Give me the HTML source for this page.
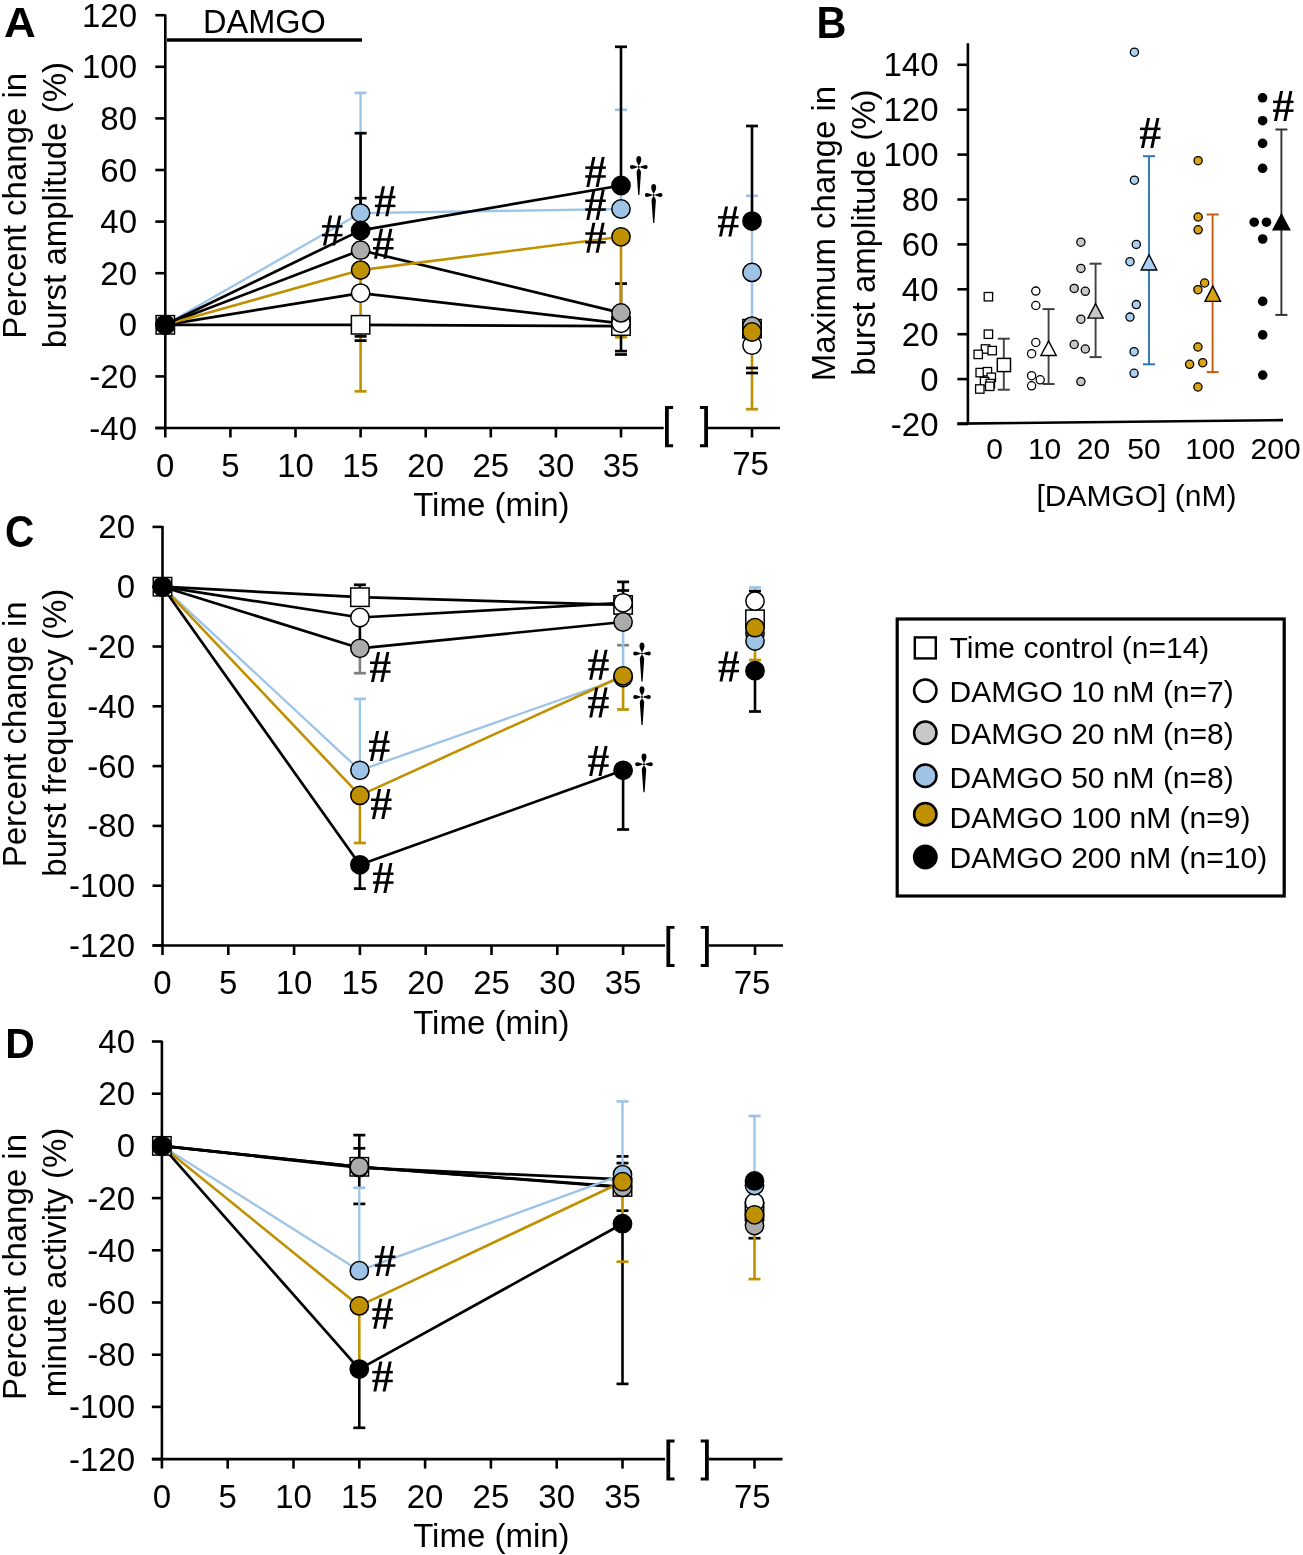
<!DOCTYPE html><html><head><meta charset="utf-8"><style>html,body{margin:0;padding:0;background:#fff;width:1303px;height:1555px;overflow:hidden}svg{display:block;will-change:transform}text{font-family:"Liberation Sans",sans-serif;fill:#000}</style></head><body><svg width="1303" height="1555" viewBox="0 0 1303 1555" font-family="Liberation Sans, sans-serif">
<rect width="1303" height="1555" fill="#fff"/>
<text transform="translate(4.1,37.3) scale(1,0.97)" font-size="44" font-weight="bold">A</text>
<line x1="165.3" y1="14.4" x2="165.3" y2="437.5" stroke="#000" stroke-width="2.6" stroke-linecap="butt"/>
<line x1="155.3" y1="428.0" x2="165.3" y2="428.0" stroke="#000" stroke-width="2.6" stroke-linecap="butt"/>
<text x="137.0" y="439.5" font-size="33" text-anchor="end" font-weight="normal" >-40</text>
<line x1="155.3" y1="376.4" x2="165.3" y2="376.4" stroke="#000" stroke-width="2.6" stroke-linecap="butt"/>
<text x="137.0" y="387.9" font-size="33" text-anchor="end" font-weight="normal" >-20</text>
<line x1="155.3" y1="324.8" x2="165.3" y2="324.8" stroke="#000" stroke-width="2.6" stroke-linecap="butt"/>
<text x="137.0" y="336.3" font-size="33" text-anchor="end" font-weight="normal" >0</text>
<line x1="155.3" y1="273.2" x2="165.3" y2="273.2" stroke="#000" stroke-width="2.6" stroke-linecap="butt"/>
<text x="137.0" y="284.7" font-size="33" text-anchor="end" font-weight="normal" >20</text>
<line x1="155.3" y1="221.6" x2="165.3" y2="221.6" stroke="#000" stroke-width="2.6" stroke-linecap="butt"/>
<text x="137.0" y="233.1" font-size="33" text-anchor="end" font-weight="normal" >40</text>
<line x1="155.3" y1="170.0" x2="165.3" y2="170.0" stroke="#000" stroke-width="2.6" stroke-linecap="butt"/>
<text x="137.0" y="181.5" font-size="33" text-anchor="end" font-weight="normal" >60</text>
<line x1="155.3" y1="118.4" x2="165.3" y2="118.4" stroke="#000" stroke-width="2.6" stroke-linecap="butt"/>
<text x="137.0" y="129.9" font-size="33" text-anchor="end" font-weight="normal" >80</text>
<line x1="155.3" y1="66.8" x2="165.3" y2="66.8" stroke="#000" stroke-width="2.6" stroke-linecap="butt"/>
<text x="137.0" y="78.3" font-size="33" text-anchor="end" font-weight="normal" >100</text>
<line x1="155.3" y1="15.2" x2="165.3" y2="15.2" stroke="#000" stroke-width="2.6" stroke-linecap="butt"/>
<text x="137.0" y="26.7" font-size="33" text-anchor="end" font-weight="normal" >120</text>
<line x1="155.3" y1="428.0" x2="663.7" y2="428.0" stroke="#000" stroke-width="2.6" stroke-linecap="butt"/>
<line x1="708.0" y1="428.0" x2="780.0" y2="428.0" stroke="#000" stroke-width="2.6" stroke-linecap="butt"/>
<line x1="230.4" y1="428.0" x2="230.4" y2="437.5" stroke="#000" stroke-width="2.6" stroke-linecap="butt"/>
<line x1="295.5" y1="428.0" x2="295.5" y2="437.5" stroke="#000" stroke-width="2.6" stroke-linecap="butt"/>
<line x1="360.6" y1="428.0" x2="360.6" y2="437.5" stroke="#000" stroke-width="2.6" stroke-linecap="butt"/>
<line x1="425.7" y1="428.0" x2="425.7" y2="437.5" stroke="#000" stroke-width="2.6" stroke-linecap="butt"/>
<line x1="490.8" y1="428.0" x2="490.8" y2="437.5" stroke="#000" stroke-width="2.6" stroke-linecap="butt"/>
<line x1="555.9" y1="428.0" x2="555.9" y2="437.5" stroke="#000" stroke-width="2.6" stroke-linecap="butt"/>
<line x1="621.0" y1="428.0" x2="621.0" y2="437.5" stroke="#000" stroke-width="2.6" stroke-linecap="butt"/>
<line x1="752.0" y1="428.0" x2="752.0" y2="437.5" stroke="#000" stroke-width="2.6" stroke-linecap="butt"/>
<path d="M665.0,406.0 H673.1 V408.9 H668.8 V444.3 H673.1 V447.2 H665.0 Z"/>
<path d="M708.0,406.0 H699.9 V408.9 H704.2 V444.3 H699.9 V447.2 H708.0 Z"/>
<text x="165.3" y="476.5" font-size="33" text-anchor="middle" font-weight="normal" >0</text>
<text x="230.4" y="476.5" font-size="33" text-anchor="middle" font-weight="normal" >5</text>
<text x="295.5" y="476.5" font-size="33" text-anchor="middle" font-weight="normal" >10</text>
<text x="360.6" y="476.5" font-size="33" text-anchor="middle" font-weight="normal" >15</text>
<text x="425.7" y="476.5" font-size="33" text-anchor="middle" font-weight="normal" >20</text>
<text x="490.8" y="476.5" font-size="33" text-anchor="middle" font-weight="normal" >25</text>
<text x="555.9" y="476.5" font-size="33" text-anchor="middle" font-weight="normal" >30</text>
<text x="621.0" y="476.5" font-size="33" text-anchor="middle" font-weight="normal" >35</text>
<text x="750.5" y="474.5" font-size="33" text-anchor="middle" font-weight="normal" >75</text>
<text x="491.4" y="516.0" font-size="33" text-anchor="middle" font-weight="normal" >Time (min)</text>
<text transform="translate(26.1,205.8) rotate(-90)" font-size="33" text-anchor="middle">Percent change in</text>
<text transform="translate(65.6,205.1) rotate(-90)" font-size="33" text-anchor="middle">burst amplitude (%)</text>
<line x1="167.0" y1="40.1" x2="362.0" y2="40.1" stroke="#000" stroke-width="3.5" stroke-linecap="butt"/>
<text x="264.5" y="33.0" font-size="32.5" text-anchor="middle" font-weight="normal" >DAMGO</text>
<polyline fill="none" stroke="#000" stroke-width="2.7" stroke-linejoin="round" points="165.3,324.8 360.6,324.8 621.0,326.1"/>
<polyline fill="none" stroke="#000" stroke-width="2.7" stroke-linejoin="round" points="165.3,324.8 360.6,293.1 621.0,323.3"/>
<polyline fill="none" stroke="#000" stroke-width="2.7" stroke-linejoin="round" points="165.3,324.8 360.6,250.2 621.0,312.9"/>
<polyline fill="none" stroke="#9DC3E6" stroke-width="2.3" stroke-linejoin="round" points="165.3,324.8 360.6,213.1 621.0,209.0"/>
<polyline fill="none" stroke="#BF9000" stroke-width="2.6" stroke-linejoin="round" points="165.3,324.8 360.6,270.1 621.0,236.8"/>
<polyline fill="none" stroke="#000" stroke-width="2.7" stroke-linejoin="round" points="165.3,324.8 360.6,230.4 621.0,185.5"/>
<line x1="360.6" y1="213.1" x2="360.6" y2="92.9" stroke="#9DC3E6" stroke-width="2.3" stroke-linecap="butt"/>
<line x1="354.6" y1="92.9" x2="366.6" y2="92.9" stroke="#9DC3E6" stroke-width="2.7" stroke-linecap="butt"/>
<line x1="360.6" y1="230.4" x2="360.6" y2="133.2" stroke="#000" stroke-width="2.6" stroke-linecap="butt"/>
<line x1="354.6" y1="133.2" x2="366.6" y2="133.2" stroke="#000" stroke-width="2.7" stroke-linecap="butt"/>
<line x1="360.6" y1="250.2" x2="360.6" y2="198.2" stroke="#000" stroke-width="2.6" stroke-linecap="butt"/>
<line x1="354.6" y1="198.2" x2="366.6" y2="198.2" stroke="#000" stroke-width="2.7" stroke-linecap="butt"/>
<line x1="360.6" y1="270.1" x2="360.6" y2="391.3" stroke="#BF9000" stroke-width="2.6" stroke-linecap="butt"/>
<line x1="354.6" y1="391.3" x2="366.6" y2="391.3" stroke="#BF9000" stroke-width="2.7" stroke-linecap="butt"/>
<line x1="354.6" y1="336.4" x2="366.6" y2="336.4" stroke="#000" stroke-width="2.7" stroke-linecap="butt"/>
<line x1="354.6" y1="340.6" x2="366.6" y2="340.6" stroke="#000" stroke-width="2.7" stroke-linecap="butt"/>
<line x1="621.0" y1="209.0" x2="621.0" y2="109.8" stroke="#9DC3E6" stroke-width="2.3" stroke-linecap="butt"/>
<line x1="615.0" y1="109.8" x2="627.0" y2="109.8" stroke="#9DC3E6" stroke-width="2.7" stroke-linecap="butt"/>
<line x1="621.0" y1="185.5" x2="621.0" y2="46.8" stroke="#000" stroke-width="2.6" stroke-linecap="butt"/>
<line x1="615.0" y1="46.8" x2="627.0" y2="46.8" stroke="#000" stroke-width="2.7" stroke-linecap="butt"/>
<line x1="621.0" y1="312.9" x2="621.0" y2="283.6" stroke="#000" stroke-width="2.6" stroke-linecap="butt"/>
<line x1="615.0" y1="283.6" x2="627.0" y2="283.6" stroke="#000" stroke-width="2.7" stroke-linecap="butt"/>
<line x1="621.0" y1="236.8" x2="621.0" y2="337.2" stroke="#BF9000" stroke-width="2.6" stroke-linecap="butt"/>
<line x1="615.0" y1="337.2" x2="627.0" y2="337.2" stroke="#BF9000" stroke-width="2.7" stroke-linecap="butt"/>
<line x1="621.0" y1="326.1" x2="621.0" y2="351.1" stroke="#000" stroke-width="2.6" stroke-linecap="butt"/>
<line x1="615.0" y1="351.1" x2="627.0" y2="351.1" stroke="#000" stroke-width="2.7" stroke-linecap="butt"/>
<line x1="615.0" y1="354.5" x2="627.0" y2="354.5" stroke="#000" stroke-width="2.7" stroke-linecap="butt"/>
<line x1="752.0" y1="272.4" x2="752.0" y2="195.8" stroke="#9DC3E6" stroke-width="2.3" stroke-linecap="butt"/>
<line x1="746.0" y1="195.8" x2="758.0" y2="195.8" stroke="#9DC3E6" stroke-width="2.7" stroke-linecap="butt"/>
<line x1="752.0" y1="272.4" x2="752.0" y2="330.0" stroke="#9DC3E6" stroke-width="2.6" stroke-linecap="butt"/>
<line x1="752.0" y1="221.1" x2="752.0" y2="126.0" stroke="#000" stroke-width="2.6" stroke-linecap="butt"/>
<line x1="746.0" y1="126.0" x2="758.0" y2="126.0" stroke="#000" stroke-width="2.7" stroke-linecap="butt"/>
<line x1="752.0" y1="332.0" x2="752.0" y2="409.2" stroke="#BF9000" stroke-width="2.6" stroke-linecap="butt"/>
<line x1="746.0" y1="409.2" x2="758.0" y2="409.2" stroke="#BF9000" stroke-width="2.7" stroke-linecap="butt"/>
<line x1="746.0" y1="368.0" x2="758.0" y2="368.0" stroke="#000" stroke-width="2.7" stroke-linecap="butt"/>
<line x1="746.0" y1="373.0" x2="758.0" y2="373.0" stroke="#000" stroke-width="2.7" stroke-linecap="butt"/>
<rect x="156.1" y="315.6" width="18.4" height="18.4" fill="#fff" stroke="#000" stroke-width="1.5"/>
<rect x="351.4" y="315.6" width="18.4" height="18.4" fill="#fff" stroke="#000" stroke-width="1.5"/>
<rect x="611.8" y="316.9" width="18.4" height="18.4" fill="#fff" stroke="#000" stroke-width="1.5"/>
<rect x="742.8" y="319.5" width="18.4" height="18.4" fill="#fff" stroke="#000" stroke-width="1.5"/>
<circle cx="165.3" cy="324.8" r="9.15" fill="#fff" stroke="#000" stroke-width="1.5"/>
<circle cx="360.6" cy="293.1" r="9.15" fill="#fff" stroke="#000" stroke-width="1.5"/>
<circle cx="621.0" cy="323.3" r="9.15" fill="#fff" stroke="#000" stroke-width="1.5"/>
<circle cx="752.0" cy="345.2" r="9.15" fill="#fff" stroke="#000" stroke-width="1.5"/>
<circle cx="165.3" cy="324.8" r="9.15" fill="#ABABAB" stroke="#000" stroke-width="1.5"/>
<circle cx="360.6" cy="250.2" r="9.15" fill="#ABABAB" stroke="#000" stroke-width="1.5"/>
<circle cx="621.0" cy="312.9" r="9.15" fill="#ABABAB" stroke="#000" stroke-width="1.5"/>
<circle cx="752.0" cy="326.1" r="9.15" fill="#ABABAB" stroke="#000" stroke-width="1.5"/>
<circle cx="165.3" cy="324.8" r="9.15" fill="#9DC3E6" stroke="#000" stroke-width="1.5"/>
<circle cx="360.6" cy="213.1" r="9.15" fill="#9DC3E6" stroke="#000" stroke-width="1.5"/>
<circle cx="621.0" cy="209.0" r="9.15" fill="#9DC3E6" stroke="#000" stroke-width="1.5"/>
<circle cx="752.0" cy="272.4" r="9.15" fill="#9DC3E6" stroke="#000" stroke-width="1.5"/>
<circle cx="165.3" cy="324.8" r="9.15" fill="#BF9000" stroke="#000" stroke-width="1.5"/>
<circle cx="360.6" cy="270.1" r="9.15" fill="#BF9000" stroke="#000" stroke-width="1.5"/>
<circle cx="621.0" cy="236.8" r="9.15" fill="#BF9000" stroke="#000" stroke-width="1.5"/>
<circle cx="752.0" cy="332.0" r="9.15" fill="#BF9000" stroke="#000" stroke-width="1.5"/>
<circle cx="165.3" cy="324.8" r="9.15" fill="#000" stroke="#000" stroke-width="1.5"/>
<circle cx="360.6" cy="230.4" r="9.15" fill="#000" stroke="#000" stroke-width="1.5"/>
<circle cx="621.0" cy="185.5" r="9.15" fill="#000" stroke="#000" stroke-width="1.5"/>
<circle cx="752.0" cy="221.1" r="9.15" fill="#000" stroke="#000" stroke-width="1.5"/>
<g transform="translate(322.0,215.6)"><polygon points="7.1,0 10.1,0 4.0,30 1.0,30"/><polygon points="16.4,0 19.4,0 13.3,30 10.3,30"/><rect x="0" y="9.5" width="20.5" height="2.5"/><rect x="0" y="18.3" width="20.5" height="2.5"/></g>
<g transform="translate(374.9,186.3)"><polygon points="7.1,0 10.1,0 4.0,30 1.0,30"/><polygon points="16.4,0 19.4,0 13.3,30 10.3,30"/><rect x="0" y="9.5" width="20.5" height="2.5"/><rect x="0" y="18.3" width="20.5" height="2.5"/></g>
<g transform="translate(373.0,228.7)"><polygon points="7.1,0 10.1,0 4.0,30 1.0,30"/><polygon points="16.4,0 19.4,0 13.3,30 10.3,30"/><rect x="0" y="9.5" width="20.5" height="2.5"/><rect x="0" y="18.3" width="20.5" height="2.5"/></g>
<g transform="translate(585.3,156.9)"><polygon points="7.1,0 10.1,0 4.0,30 1.0,30"/><polygon points="16.4,0 19.4,0 13.3,30 10.3,30"/><rect x="0" y="9.5" width="20.5" height="2.5"/><rect x="0" y="18.3" width="20.5" height="2.5"/></g>
<g transform="translate(585.3,190.0)"><polygon points="7.1,0 10.1,0 4.0,30 1.0,30"/><polygon points="16.4,0 19.4,0 13.3,30 10.3,30"/><rect x="0" y="9.5" width="20.5" height="2.5"/><rect x="0" y="18.3" width="20.5" height="2.5"/></g>
<g transform="translate(585.3,222.8)"><polygon points="7.1,0 10.1,0 4.0,30 1.0,30"/><polygon points="16.4,0 19.4,0 13.3,30 10.3,30"/><rect x="0" y="9.5" width="20.5" height="2.5"/><rect x="0" y="18.3" width="20.5" height="2.5"/></g>
<g transform="translate(718.0,206.6)"><polygon points="7.1,0 10.1,0 4.0,30 1.0,30"/><polygon points="16.4,0 19.4,0 13.3,30 10.3,30"/><rect x="0" y="9.5" width="20.5" height="2.5"/><rect x="0" y="18.3" width="20.5" height="2.5"/></g>
<g transform="translate(638.8,166.9)"><path d="M0,-0.8 C-0.8,-3 -2.5,-5 -2.5,-7.5 C-2.5,-9.6 -1.3,-10.8 0,-10.8 C1.3,-10.8 2.5,-9.6 2.5,-7.5 C2.5,-5 0.8,-3 0,-0.8 Z"/><path d="M-0.8,0 C-3,-0.8 -5,-2 -7,-2 C-8,-2 -8.8,-1.1 -8.8,0 C-8.8,1.1 -8,2 -7,2 C-5,2 -3,0.8 -0.8,0 Z"/><path d="M0.8,0 C3,-0.8 5,-2 7,-2 C8,-2 8.8,-1.1 8.8,0 C8.8,1.1 8,2 7,2 C5,2 3,0.8 0.8,0 Z"/><path d="M0,0.8 C-0.9,2.3 -2.2,3.8 -2.2,5.4 L-0.6,28 L0.6,28 L2.2,5.4 C2.2,3.8 0.9,2.3 0,0.8 Z"/><circle r="1"/></g>
<g transform="translate(653.7,194.9)"><path d="M0,-0.8 C-0.8,-3 -2.5,-5 -2.5,-7.5 C-2.5,-9.6 -1.3,-10.8 0,-10.8 C1.3,-10.8 2.5,-9.6 2.5,-7.5 C2.5,-5 0.8,-3 0,-0.8 Z"/><path d="M-0.8,0 C-3,-0.8 -5,-2 -7,-2 C-8,-2 -8.8,-1.1 -8.8,0 C-8.8,1.1 -8,2 -7,2 C-5,2 -3,0.8 -0.8,0 Z"/><path d="M0.8,0 C3,-0.8 5,-2 7,-2 C8,-2 8.8,-1.1 8.8,0 C8.8,1.1 8,2 7,2 C5,2 3,0.8 0.8,0 Z"/><path d="M0,0.8 C-0.9,2.3 -2.2,3.8 -2.2,5.4 L-0.6,28 L0.6,28 L2.2,5.4 C2.2,3.8 0.9,2.3 0,0.8 Z"/><circle r="1"/></g>
<text transform="translate(5.0,546.8) scale(0.92,1)" font-size="44" font-weight="bold">C</text>
<line x1="162.5" y1="526.1" x2="162.5" y2="955.0" stroke="#000" stroke-width="2.6" stroke-linecap="butt"/>
<line x1="152.5" y1="945.5" x2="162.5" y2="945.5" stroke="#000" stroke-width="2.6" stroke-linecap="butt"/>
<text x="135.0" y="957.0" font-size="33" text-anchor="end" font-weight="normal" >-120</text>
<line x1="152.5" y1="885.7" x2="162.5" y2="885.7" stroke="#000" stroke-width="2.6" stroke-linecap="butt"/>
<text x="135.0" y="897.2" font-size="33" text-anchor="end" font-weight="normal" >-100</text>
<line x1="152.5" y1="825.9" x2="162.5" y2="825.9" stroke="#000" stroke-width="2.6" stroke-linecap="butt"/>
<text x="135.0" y="837.4" font-size="33" text-anchor="end" font-weight="normal" >-80</text>
<line x1="152.5" y1="766.1" x2="162.5" y2="766.1" stroke="#000" stroke-width="2.6" stroke-linecap="butt"/>
<text x="135.0" y="777.6" font-size="33" text-anchor="end" font-weight="normal" >-60</text>
<line x1="152.5" y1="706.3" x2="162.5" y2="706.3" stroke="#000" stroke-width="2.6" stroke-linecap="butt"/>
<text x="135.0" y="717.8" font-size="33" text-anchor="end" font-weight="normal" >-40</text>
<line x1="152.5" y1="646.5" x2="162.5" y2="646.5" stroke="#000" stroke-width="2.6" stroke-linecap="butt"/>
<text x="135.0" y="658.0" font-size="33" text-anchor="end" font-weight="normal" >-20</text>
<line x1="152.5" y1="586.7" x2="162.5" y2="586.7" stroke="#000" stroke-width="2.6" stroke-linecap="butt"/>
<text x="135.0" y="598.2" font-size="33" text-anchor="end" font-weight="normal" >0</text>
<line x1="152.5" y1="526.9" x2="162.5" y2="526.9" stroke="#000" stroke-width="2.6" stroke-linecap="butt"/>
<text x="135.0" y="538.4" font-size="33" text-anchor="end" font-weight="normal" >20</text>
<line x1="152.5" y1="945.5" x2="665.1" y2="945.5" stroke="#000" stroke-width="2.6" stroke-linecap="butt"/>
<line x1="708.8" y1="945.5" x2="783.0" y2="945.5" stroke="#000" stroke-width="2.6" stroke-linecap="butt"/>
<line x1="228.3" y1="945.5" x2="228.3" y2="955.0" stroke="#000" stroke-width="2.6" stroke-linecap="butt"/>
<line x1="294.1" y1="945.5" x2="294.1" y2="955.0" stroke="#000" stroke-width="2.6" stroke-linecap="butt"/>
<line x1="359.9" y1="945.5" x2="359.9" y2="955.0" stroke="#000" stroke-width="2.6" stroke-linecap="butt"/>
<line x1="425.7" y1="945.5" x2="425.7" y2="955.0" stroke="#000" stroke-width="2.6" stroke-linecap="butt"/>
<line x1="491.5" y1="945.5" x2="491.5" y2="955.0" stroke="#000" stroke-width="2.6" stroke-linecap="butt"/>
<line x1="557.3" y1="945.5" x2="557.3" y2="955.0" stroke="#000" stroke-width="2.6" stroke-linecap="butt"/>
<line x1="623.1" y1="945.5" x2="623.1" y2="955.0" stroke="#000" stroke-width="2.6" stroke-linecap="butt"/>
<line x1="755.0" y1="945.5" x2="755.0" y2="955.0" stroke="#000" stroke-width="2.6" stroke-linecap="butt"/>
<path d="M666.4,925.9 H674.5 V928.8 H670.2 V964.0 H674.5 V966.9 H666.4 Z"/>
<path d="M708.8,925.9 H700.7 V928.8 H705.0 V964.0 H700.7 V966.9 H708.8 Z"/>
<text x="162.5" y="994.0" font-size="33" text-anchor="middle" font-weight="normal" >0</text>
<text x="228.3" y="994.0" font-size="33" text-anchor="middle" font-weight="normal" >5</text>
<text x="294.1" y="994.0" font-size="33" text-anchor="middle" font-weight="normal" >10</text>
<text x="359.9" y="994.0" font-size="33" text-anchor="middle" font-weight="normal" >15</text>
<text x="425.7" y="994.0" font-size="33" text-anchor="middle" font-weight="normal" >20</text>
<text x="491.5" y="994.0" font-size="33" text-anchor="middle" font-weight="normal" >25</text>
<text x="557.3" y="994.0" font-size="33" text-anchor="middle" font-weight="normal" >30</text>
<text x="623.1" y="994.0" font-size="33" text-anchor="middle" font-weight="normal" >35</text>
<text x="752.0" y="994.0" font-size="33" text-anchor="middle" font-weight="normal" >75</text>
<text x="491.4" y="1033.5" font-size="33" text-anchor="middle" font-weight="normal" >Time (min)</text>
<text transform="translate(26.1,734.3) rotate(-90)" font-size="33" text-anchor="middle">Percent change in</text>
<text transform="translate(65.6,732.7) rotate(-90)" font-size="33" text-anchor="middle">burst frequency (%)</text>
<polyline fill="none" stroke="#000" stroke-width="2.7" stroke-linejoin="round" points="162.5,586.7 359.9,597.2 623.1,604.9"/>
<polyline fill="none" stroke="#000" stroke-width="2.7" stroke-linejoin="round" points="162.5,586.7 359.9,617.5 623.1,602.8"/>
<polyline fill="none" stroke="#000" stroke-width="2.7" stroke-linejoin="round" points="162.5,586.7 359.9,648.3 623.1,622.0"/>
<polyline fill="none" stroke="#9DC3E6" stroke-width="2.3" stroke-linejoin="round" points="162.5,586.7 359.9,770.3 623.1,677.6"/>
<polyline fill="none" stroke="#BF9000" stroke-width="2.6" stroke-linejoin="round" points="162.5,586.7 359.9,795.4 623.1,675.8"/>
<polyline fill="none" stroke="#000" stroke-width="2.7" stroke-linejoin="round" points="162.5,586.7 359.9,864.8 623.1,770.3"/>
<line x1="359.9" y1="597.2" x2="359.9" y2="584.8" stroke="#000" stroke-width="2.6" stroke-linecap="butt"/>
<line x1="353.9" y1="584.8" x2="365.9" y2="584.8" stroke="#000" stroke-width="2.7" stroke-linecap="butt"/>
<line x1="359.9" y1="617.5" x2="359.9" y2="648.3" stroke="#000" stroke-width="2.6" stroke-linecap="butt"/>
<line x1="353.9" y1="648.3" x2="365.9" y2="648.3" stroke="#000" stroke-width="2.7" stroke-linecap="butt"/>
<line x1="359.9" y1="648.3" x2="359.9" y2="673.2" stroke="#808080" stroke-width="2.6" stroke-linecap="butt"/>
<line x1="353.9" y1="673.2" x2="365.9" y2="673.2" stroke="#808080" stroke-width="2.7" stroke-linecap="butt"/>
<line x1="359.9" y1="770.3" x2="359.9" y2="698.9" stroke="#9DC3E6" stroke-width="2.3" stroke-linecap="butt"/>
<line x1="353.9" y1="698.9" x2="365.9" y2="698.9" stroke="#9DC3E6" stroke-width="2.7" stroke-linecap="butt"/>
<line x1="359.9" y1="795.4" x2="359.9" y2="843.0" stroke="#BF9000" stroke-width="2.6" stroke-linecap="butt"/>
<line x1="353.9" y1="843.0" x2="365.9" y2="843.0" stroke="#BF9000" stroke-width="2.7" stroke-linecap="butt"/>
<line x1="359.9" y1="864.8" x2="359.9" y2="888.6" stroke="#000" stroke-width="2.6" stroke-linecap="butt"/>
<line x1="353.9" y1="888.6" x2="365.9" y2="888.6" stroke="#000" stroke-width="2.7" stroke-linecap="butt"/>
<line x1="617.1" y1="645.2" x2="629.1" y2="645.2" stroke="#808080" stroke-width="2.7" stroke-linecap="butt"/>
<line x1="623.1" y1="677.6" x2="623.1" y2="622.0" stroke="#9DC3E6" stroke-width="2.6" stroke-linecap="butt"/>
<line x1="623.1" y1="602.8" x2="623.1" y2="581.9" stroke="#000" stroke-width="2.6" stroke-linecap="butt"/>
<line x1="617.1" y1="581.9" x2="629.1" y2="581.9" stroke="#000" stroke-width="2.7" stroke-linecap="butt"/>
<line x1="617.1" y1="590.5" x2="629.1" y2="590.5" stroke="#000" stroke-width="2.7" stroke-linecap="butt"/>
<line x1="623.1" y1="674.3" x2="623.1" y2="709.5" stroke="#BF9000" stroke-width="2.6" stroke-linecap="butt"/>
<line x1="617.1" y1="709.5" x2="629.1" y2="709.5" stroke="#BF9000" stroke-width="2.7" stroke-linecap="butt"/>
<line x1="623.1" y1="770.3" x2="623.1" y2="829.5" stroke="#000" stroke-width="2.6" stroke-linecap="butt"/>
<line x1="617.1" y1="829.5" x2="629.1" y2="829.5" stroke="#000" stroke-width="2.7" stroke-linecap="butt"/>
<line x1="755.0" y1="601.1" x2="755.0" y2="587.5" stroke="#9DC3E6" stroke-width="2.3" stroke-linecap="butt"/>
<line x1="749.0" y1="587.5" x2="761.0" y2="587.5" stroke="#9DC3E6" stroke-width="2.7" stroke-linecap="butt"/>
<line x1="755.0" y1="601.1" x2="755.0" y2="591.1" stroke="#000" stroke-width="2.6" stroke-linecap="butt"/>
<line x1="749.0" y1="591.1" x2="761.0" y2="591.1" stroke="#000" stroke-width="2.7" stroke-linecap="butt"/>
<line x1="755.0" y1="627.7" x2="755.0" y2="660.0" stroke="#BF9000" stroke-width="2.6" stroke-linecap="butt"/>
<line x1="749.0" y1="660.0" x2="761.0" y2="660.0" stroke="#BF9000" stroke-width="2.7" stroke-linecap="butt"/>
<line x1="755.0" y1="670.7" x2="755.0" y2="711.5" stroke="#000" stroke-width="2.6" stroke-linecap="butt"/>
<line x1="749.0" y1="711.5" x2="761.0" y2="711.5" stroke="#000" stroke-width="2.7" stroke-linecap="butt"/>
<rect x="153.3" y="577.5" width="18.4" height="18.4" fill="#fff" stroke="#000" stroke-width="1.5"/>
<rect x="350.7" y="588.0" width="18.4" height="18.4" fill="#fff" stroke="#000" stroke-width="1.5"/>
<rect x="613.9" y="595.7" width="18.4" height="18.4" fill="#fff" stroke="#000" stroke-width="1.5"/>
<rect x="745.8" y="610.1" width="18.4" height="18.4" fill="#fff" stroke="#000" stroke-width="1.5"/>
<circle cx="162.5" cy="586.7" r="9.15" fill="#fff" stroke="#000" stroke-width="1.5"/>
<circle cx="359.9" cy="617.5" r="9.15" fill="#fff" stroke="#000" stroke-width="1.5"/>
<circle cx="623.1" cy="602.8" r="9.15" fill="#fff" stroke="#000" stroke-width="1.5"/>
<circle cx="755.0" cy="601.1" r="9.15" fill="#fff" stroke="#000" stroke-width="1.5"/>
<circle cx="162.5" cy="586.7" r="9.15" fill="#ABABAB" stroke="#000" stroke-width="1.5"/>
<circle cx="359.9" cy="648.3" r="9.15" fill="#ABABAB" stroke="#000" stroke-width="1.5"/>
<circle cx="623.1" cy="622.0" r="9.15" fill="#ABABAB" stroke="#000" stroke-width="1.5"/>
<circle cx="755.0" cy="633.6" r="9.15" fill="#ABABAB" stroke="#000" stroke-width="1.5"/>
<circle cx="162.5" cy="586.7" r="9.15" fill="#9DC3E6" stroke="#000" stroke-width="1.5"/>
<circle cx="359.9" cy="770.3" r="9.15" fill="#9DC3E6" stroke="#000" stroke-width="1.5"/>
<circle cx="623.1" cy="677.6" r="9.15" fill="#9DC3E6" stroke="#000" stroke-width="1.5"/>
<circle cx="755.0" cy="641.1" r="9.15" fill="#9DC3E6" stroke="#000" stroke-width="1.5"/>
<circle cx="162.5" cy="586.7" r="9.15" fill="#BF9000" stroke="#000" stroke-width="1.5"/>
<circle cx="359.9" cy="795.4" r="9.15" fill="#BF9000" stroke="#000" stroke-width="1.5"/>
<circle cx="623.1" cy="675.8" r="9.15" fill="#BF9000" stroke="#000" stroke-width="1.5"/>
<circle cx="755.0" cy="627.7" r="9.15" fill="#BF9000" stroke="#000" stroke-width="1.5"/>
<circle cx="162.5" cy="586.7" r="9.15" fill="#000" stroke="#000" stroke-width="1.5"/>
<circle cx="359.9" cy="864.8" r="9.15" fill="#000" stroke="#000" stroke-width="1.5"/>
<circle cx="623.1" cy="770.3" r="9.15" fill="#000" stroke="#000" stroke-width="1.5"/>
<circle cx="755.0" cy="670.7" r="9.15" fill="#000" stroke="#000" stroke-width="1.5"/>
<g transform="translate(370.0,652.0)"><polygon points="7.1,0 10.1,0 4.0,30 1.0,30"/><polygon points="16.4,0 19.4,0 13.3,30 10.3,30"/><rect x="0" y="9.5" width="20.5" height="2.5"/><rect x="0" y="18.3" width="20.5" height="2.5"/></g>
<g transform="translate(369.0,731.0)"><polygon points="7.1,0 10.1,0 4.0,30 1.0,30"/><polygon points="16.4,0 19.4,0 13.3,30 10.3,30"/><rect x="0" y="9.5" width="20.5" height="2.5"/><rect x="0" y="18.3" width="20.5" height="2.5"/></g>
<g transform="translate(371.0,789.0)"><polygon points="7.1,0 10.1,0 4.0,30 1.0,30"/><polygon points="16.4,0 19.4,0 13.3,30 10.3,30"/><rect x="0" y="9.5" width="20.5" height="2.5"/><rect x="0" y="18.3" width="20.5" height="2.5"/></g>
<g transform="translate(373.0,863.0)"><polygon points="7.1,0 10.1,0 4.0,30 1.0,30"/><polygon points="16.4,0 19.4,0 13.3,30 10.3,30"/><rect x="0" y="9.5" width="20.5" height="2.5"/><rect x="0" y="18.3" width="20.5" height="2.5"/></g>
<g transform="translate(588.2,649.8)"><polygon points="7.1,0 10.1,0 4.0,30 1.0,30"/><polygon points="16.4,0 19.4,0 13.3,30 10.3,30"/><rect x="0" y="9.5" width="20.5" height="2.5"/><rect x="0" y="18.3" width="20.5" height="2.5"/></g>
<g transform="translate(588.2,687.5)"><polygon points="7.1,0 10.1,0 4.0,30 1.0,30"/><polygon points="16.4,0 19.4,0 13.3,30 10.3,30"/><rect x="0" y="9.5" width="20.5" height="2.5"/><rect x="0" y="18.3" width="20.5" height="2.5"/></g>
<g transform="translate(588.2,746.0)"><polygon points="7.1,0 10.1,0 4.0,30 1.0,30"/><polygon points="16.4,0 19.4,0 13.3,30 10.3,30"/><rect x="0" y="9.5" width="20.5" height="2.5"/><rect x="0" y="18.3" width="20.5" height="2.5"/></g>
<g transform="translate(718.5,651.5)"><polygon points="7.1,0 10.1,0 4.0,30 1.0,30"/><polygon points="16.4,0 19.4,0 13.3,30 10.3,30"/><rect x="0" y="9.5" width="20.5" height="2.5"/><rect x="0" y="18.3" width="20.5" height="2.5"/></g>
<g transform="translate(642.0,653.4)"><path d="M0,-0.8 C-0.8,-3 -2.5,-5 -2.5,-7.5 C-2.5,-9.6 -1.3,-10.8 0,-10.8 C1.3,-10.8 2.5,-9.6 2.5,-7.5 C2.5,-5 0.8,-3 0,-0.8 Z"/><path d="M-0.8,0 C-3,-0.8 -5,-2 -7,-2 C-8,-2 -8.8,-1.1 -8.8,0 C-8.8,1.1 -8,2 -7,2 C-5,2 -3,0.8 -0.8,0 Z"/><path d="M0.8,0 C3,-0.8 5,-2 7,-2 C8,-2 8.8,-1.1 8.8,0 C8.8,1.1 8,2 7,2 C5,2 3,0.8 0.8,0 Z"/><path d="M0,0.8 C-0.9,2.3 -2.2,3.8 -2.2,5.4 L-0.6,28 L0.6,28 L2.2,5.4 C2.2,3.8 0.9,2.3 0,0.8 Z"/><circle r="1"/></g>
<g transform="translate(642.0,697.1)"><path d="M0,-0.8 C-0.8,-3 -2.5,-5 -2.5,-7.5 C-2.5,-9.6 -1.3,-10.8 0,-10.8 C1.3,-10.8 2.5,-9.6 2.5,-7.5 C2.5,-5 0.8,-3 0,-0.8 Z"/><path d="M-0.8,0 C-3,-0.8 -5,-2 -7,-2 C-8,-2 -8.8,-1.1 -8.8,0 C-8.8,1.1 -8,2 -7,2 C-5,2 -3,0.8 -0.8,0 Z"/><path d="M0.8,0 C3,-0.8 5,-2 7,-2 C8,-2 8.8,-1.1 8.8,0 C8.8,1.1 8,2 7,2 C5,2 3,0.8 0.8,0 Z"/><path d="M0,0.8 C-0.9,2.3 -2.2,3.8 -2.2,5.4 L-0.6,28 L0.6,28 L2.2,5.4 C2.2,3.8 0.9,2.3 0,0.8 Z"/><circle r="1"/></g>
<g transform="translate(644.0,764.3)"><path d="M0,-0.8 C-0.8,-3 -2.5,-5 -2.5,-7.5 C-2.5,-9.6 -1.3,-10.8 0,-10.8 C1.3,-10.8 2.5,-9.6 2.5,-7.5 C2.5,-5 0.8,-3 0,-0.8 Z"/><path d="M-0.8,0 C-3,-0.8 -5,-2 -7,-2 C-8,-2 -8.8,-1.1 -8.8,0 C-8.8,1.1 -8,2 -7,2 C-5,2 -3,0.8 -0.8,0 Z"/><path d="M0.8,0 C3,-0.8 5,-2 7,-2 C8,-2 8.8,-1.1 8.8,0 C8.8,1.1 8,2 7,2 C5,2 3,0.8 0.8,0 Z"/><path d="M0,0.8 C-0.9,2.3 -2.2,3.8 -2.2,5.4 L-0.6,28 L0.6,28 L2.2,5.4 C2.2,3.8 0.9,2.3 0,0.8 Z"/><circle r="1"/></g>
<text transform="translate(5.2,1057.6) scale(0.93,0.97)" font-size="44" font-weight="bold">D</text>
<line x1="161.9" y1="1040.7" x2="161.9" y2="1468.6" stroke="#000" stroke-width="2.6" stroke-linecap="butt"/>
<line x1="151.9" y1="1459.1" x2="161.9" y2="1459.1" stroke="#000" stroke-width="2.6" stroke-linecap="butt"/>
<text x="135.0" y="1470.6" font-size="33" text-anchor="end" font-weight="normal" >-120</text>
<line x1="151.9" y1="1406.9" x2="161.9" y2="1406.9" stroke="#000" stroke-width="2.6" stroke-linecap="butt"/>
<text x="135.0" y="1418.4" font-size="33" text-anchor="end" font-weight="normal" >-100</text>
<line x1="151.9" y1="1354.7" x2="161.9" y2="1354.7" stroke="#000" stroke-width="2.6" stroke-linecap="butt"/>
<text x="135.0" y="1366.2" font-size="33" text-anchor="end" font-weight="normal" >-80</text>
<line x1="151.9" y1="1302.5" x2="161.9" y2="1302.5" stroke="#000" stroke-width="2.6" stroke-linecap="butt"/>
<text x="135.0" y="1314.0" font-size="33" text-anchor="end" font-weight="normal" >-60</text>
<line x1="151.9" y1="1250.3" x2="161.9" y2="1250.3" stroke="#000" stroke-width="2.6" stroke-linecap="butt"/>
<text x="135.0" y="1261.8" font-size="33" text-anchor="end" font-weight="normal" >-40</text>
<line x1="151.9" y1="1198.1" x2="161.9" y2="1198.1" stroke="#000" stroke-width="2.6" stroke-linecap="butt"/>
<text x="135.0" y="1209.6" font-size="33" text-anchor="end" font-weight="normal" >-20</text>
<line x1="151.9" y1="1145.9" x2="161.9" y2="1145.9" stroke="#000" stroke-width="2.6" stroke-linecap="butt"/>
<text x="135.0" y="1157.4" font-size="33" text-anchor="end" font-weight="normal" >0</text>
<line x1="151.9" y1="1093.7" x2="161.9" y2="1093.7" stroke="#000" stroke-width="2.6" stroke-linecap="butt"/>
<text x="135.0" y="1105.2" font-size="33" text-anchor="end" font-weight="normal" >20</text>
<line x1="151.9" y1="1041.5" x2="161.9" y2="1041.5" stroke="#000" stroke-width="2.6" stroke-linecap="butt"/>
<text x="135.0" y="1053.0" font-size="33" text-anchor="end" font-weight="normal" >40</text>
<line x1="151.9" y1="1459.1" x2="665.1" y2="1459.1" stroke="#000" stroke-width="2.6" stroke-linecap="butt"/>
<line x1="708.8" y1="1459.1" x2="782.5" y2="1459.1" stroke="#000" stroke-width="2.6" stroke-linecap="butt"/>
<line x1="227.7" y1="1459.1" x2="227.7" y2="1468.6" stroke="#000" stroke-width="2.6" stroke-linecap="butt"/>
<line x1="293.5" y1="1459.1" x2="293.5" y2="1468.6" stroke="#000" stroke-width="2.6" stroke-linecap="butt"/>
<line x1="359.3" y1="1459.1" x2="359.3" y2="1468.6" stroke="#000" stroke-width="2.6" stroke-linecap="butt"/>
<line x1="425.1" y1="1459.1" x2="425.1" y2="1468.6" stroke="#000" stroke-width="2.6" stroke-linecap="butt"/>
<line x1="490.9" y1="1459.1" x2="490.9" y2="1468.6" stroke="#000" stroke-width="2.6" stroke-linecap="butt"/>
<line x1="556.7" y1="1459.1" x2="556.7" y2="1468.6" stroke="#000" stroke-width="2.6" stroke-linecap="butt"/>
<line x1="622.5" y1="1459.1" x2="622.5" y2="1468.6" stroke="#000" stroke-width="2.6" stroke-linecap="butt"/>
<line x1="754.5" y1="1459.1" x2="754.5" y2="1468.6" stroke="#000" stroke-width="2.6" stroke-linecap="butt"/>
<path d="M666.4,1439.6 H674.5 V1442.5 H670.2 V1477.6 H674.5 V1480.5 H666.4 Z"/>
<path d="M708.8,1439.6 H700.7 V1442.5 H705.0 V1477.6 H700.7 V1480.5 H708.8 Z"/>
<text x="161.9" y="1507.6" font-size="33" text-anchor="middle" font-weight="normal" >0</text>
<text x="227.7" y="1507.6" font-size="33" text-anchor="middle" font-weight="normal" >5</text>
<text x="293.5" y="1507.6" font-size="33" text-anchor="middle" font-weight="normal" >10</text>
<text x="359.3" y="1507.6" font-size="33" text-anchor="middle" font-weight="normal" >15</text>
<text x="425.1" y="1507.6" font-size="33" text-anchor="middle" font-weight="normal" >20</text>
<text x="490.9" y="1507.6" font-size="33" text-anchor="middle" font-weight="normal" >25</text>
<text x="556.7" y="1507.6" font-size="33" text-anchor="middle" font-weight="normal" >30</text>
<text x="622.5" y="1507.6" font-size="33" text-anchor="middle" font-weight="normal" >35</text>
<text x="752.3" y="1507.6" font-size="33" text-anchor="middle" font-weight="normal" >75</text>
<text x="491.4" y="1547.1" font-size="33" text-anchor="middle" font-weight="normal" >Time (min)</text>
<text transform="translate(26.1,1267.0) rotate(-90)" font-size="33" text-anchor="middle">Percent change in</text>
<text transform="translate(65.6,1262.5) rotate(-90)" font-size="33" text-anchor="middle">minute activity (%)</text>
<polyline fill="none" stroke="#000" stroke-width="2.7" stroke-linejoin="round" points="161.9,1145.9 359.3,1166.8 622.5,1186.9"/>
<polyline fill="none" stroke="#000" stroke-width="2.7" stroke-linejoin="round" points="161.9,1145.9 359.3,1167.6 622.5,1179.3"/>
<polyline fill="none" stroke="#000" stroke-width="2.7" stroke-linejoin="round" points="161.9,1145.9 359.3,1166.8 622.5,1187.4"/>
<polyline fill="none" stroke="#9DC3E6" stroke-width="2.3" stroke-linejoin="round" points="161.9,1145.9 359.3,1270.7 622.5,1174.6"/>
<polyline fill="none" stroke="#BF9000" stroke-width="2.6" stroke-linejoin="round" points="161.9,1145.9 359.3,1305.9 622.5,1181.7"/>
<polyline fill="none" stroke="#000" stroke-width="2.7" stroke-linejoin="round" points="161.9,1145.9 359.3,1369.1 622.5,1223.7"/>
<line x1="359.3" y1="1305.9" x2="359.3" y2="1367.8" stroke="#BF9000" stroke-width="2.6" stroke-linecap="butt"/>
<line x1="353.3" y1="1367.8" x2="365.3" y2="1367.8" stroke="#BF9000" stroke-width="2.7" stroke-linecap="butt"/>
<line x1="359.3" y1="1166.8" x2="359.3" y2="1135.1" stroke="#000" stroke-width="2.6" stroke-linecap="butt"/>
<line x1="353.3" y1="1135.1" x2="365.3" y2="1135.1" stroke="#000" stroke-width="2.7" stroke-linecap="butt"/>
<line x1="353.3" y1="1148.3" x2="365.3" y2="1148.3" stroke="#000" stroke-width="2.7" stroke-linecap="butt"/>
<line x1="359.3" y1="1166.8" x2="359.3" y2="1188.0" stroke="#000" stroke-width="2.6" stroke-linecap="butt"/>
<line x1="353.3" y1="1203.9" x2="365.3" y2="1203.9" stroke="#000" stroke-width="2.7" stroke-linecap="butt"/>
<line x1="359.3" y1="1369.1" x2="359.3" y2="1427.8" stroke="#000" stroke-width="2.6" stroke-linecap="butt"/>
<line x1="353.3" y1="1427.8" x2="365.3" y2="1427.8" stroke="#000" stroke-width="2.7" stroke-linecap="butt"/>
<line x1="359.3" y1="1270.7" x2="359.3" y2="1187.8" stroke="#9DC3E6" stroke-width="2.3" stroke-linecap="butt"/>
<line x1="353.3" y1="1187.8" x2="365.3" y2="1187.8" stroke="#9DC3E6" stroke-width="2.7" stroke-linecap="butt"/>
<line x1="616.5" y1="1156.4" x2="628.5" y2="1156.4" stroke="#000" stroke-width="2.7" stroke-linecap="butt"/>
<line x1="616.5" y1="1163.1" x2="628.5" y2="1163.1" stroke="#000" stroke-width="2.7" stroke-linecap="butt"/>
<line x1="616.5" y1="1210.7" x2="628.5" y2="1210.7" stroke="#000" stroke-width="2.7" stroke-linecap="butt"/>
<line x1="622.5" y1="1174.6" x2="622.5" y2="1101.4" stroke="#9DC3E6" stroke-width="2.3" stroke-linecap="butt"/>
<line x1="616.5" y1="1101.4" x2="628.5" y2="1101.4" stroke="#9DC3E6" stroke-width="2.7" stroke-linecap="butt"/>
<line x1="622.5" y1="1181.7" x2="622.5" y2="1223.7" stroke="#BF9000" stroke-width="2.6" stroke-linecap="butt"/>
<line x1="622.5" y1="1223.7" x2="622.5" y2="1383.9" stroke="#000" stroke-width="2.6" stroke-linecap="butt"/>
<line x1="616.5" y1="1383.9" x2="628.5" y2="1383.9" stroke="#000" stroke-width="2.7" stroke-linecap="butt"/>
<line x1="616.5" y1="1261.7" x2="628.5" y2="1261.7" stroke="#BF9000" stroke-width="2.7" stroke-linecap="butt"/>
<line x1="748.5" y1="1238.2" x2="760.5" y2="1238.2" stroke="#000" stroke-width="2.7" stroke-linecap="butt"/>
<line x1="754.5" y1="1185.6" x2="754.5" y2="1116.0" stroke="#9DC3E6" stroke-width="2.3" stroke-linecap="butt"/>
<line x1="748.5" y1="1116.0" x2="760.5" y2="1116.0" stroke="#9DC3E6" stroke-width="2.7" stroke-linecap="butt"/>
<line x1="754.5" y1="1214.8" x2="754.5" y2="1279.1" stroke="#BF9000" stroke-width="2.6" stroke-linecap="butt"/>
<line x1="748.5" y1="1279.1" x2="760.5" y2="1279.1" stroke="#BF9000" stroke-width="2.7" stroke-linecap="butt"/>
<rect x="152.7" y="1136.7" width="18.4" height="18.4" fill="#fff" stroke="#000" stroke-width="1.5"/>
<rect x="350.1" y="1157.6" width="18.4" height="18.4" fill="#fff" stroke="#000" stroke-width="1.5"/>
<rect x="613.3" y="1177.7" width="18.4" height="18.4" fill="#fff" stroke="#000" stroke-width="1.5"/>
<rect x="745.3" y="1202.2" width="18.4" height="18.4" fill="#fff" stroke="#000" stroke-width="1.5"/>
<circle cx="161.9" cy="1145.9" r="9.15" fill="#fff" stroke="#000" stroke-width="1.5"/>
<circle cx="359.3" cy="1167.6" r="9.15" fill="#fff" stroke="#000" stroke-width="1.5"/>
<circle cx="622.5" cy="1179.3" r="9.15" fill="#fff" stroke="#000" stroke-width="1.5"/>
<circle cx="754.5" cy="1202.5" r="9.15" fill="#fff" stroke="#000" stroke-width="1.5"/>
<circle cx="161.9" cy="1145.9" r="9.15" fill="#ABABAB" stroke="#000" stroke-width="1.5"/>
<circle cx="359.3" cy="1166.8" r="9.15" fill="#ABABAB" stroke="#000" stroke-width="1.5"/>
<circle cx="622.5" cy="1187.4" r="9.15" fill="#ABABAB" stroke="#000" stroke-width="1.5"/>
<circle cx="754.5" cy="1225.5" r="9.15" fill="#ABABAB" stroke="#000" stroke-width="1.5"/>
<circle cx="161.9" cy="1145.9" r="9.15" fill="#9DC3E6" stroke="#000" stroke-width="1.5"/>
<circle cx="359.3" cy="1270.7" r="9.15" fill="#9DC3E6" stroke="#000" stroke-width="1.5"/>
<circle cx="622.5" cy="1174.6" r="9.15" fill="#9DC3E6" stroke="#000" stroke-width="1.5"/>
<circle cx="754.5" cy="1185.6" r="9.15" fill="#9DC3E6" stroke="#000" stroke-width="1.5"/>
<circle cx="161.9" cy="1145.9" r="9.15" fill="#BF9000" stroke="#000" stroke-width="1.5"/>
<circle cx="359.3" cy="1305.9" r="9.15" fill="#BF9000" stroke="#000" stroke-width="1.5"/>
<circle cx="622.5" cy="1181.7" r="9.15" fill="#BF9000" stroke="#000" stroke-width="1.5"/>
<circle cx="754.5" cy="1214.8" r="9.15" fill="#BF9000" stroke="#000" stroke-width="1.5"/>
<circle cx="161.9" cy="1145.9" r="9.15" fill="#000" stroke="#000" stroke-width="1.5"/>
<circle cx="359.3" cy="1369.1" r="9.15" fill="#000" stroke="#000" stroke-width="1.5"/>
<circle cx="622.5" cy="1223.7" r="9.15" fill="#000" stroke="#000" stroke-width="1.5"/>
<circle cx="754.5" cy="1180.9" r="9.15" fill="#000" stroke="#000" stroke-width="1.5"/>
<g transform="translate(374.9,1246.0)"><polygon points="7.1,0 10.1,0 4.0,30 1.0,30"/><polygon points="16.4,0 19.4,0 13.3,30 10.3,30"/><rect x="0" y="9.5" width="20.5" height="2.5"/><rect x="0" y="18.3" width="20.5" height="2.5"/></g>
<g transform="translate(372.3,1298.8)"><polygon points="7.1,0 10.1,0 4.0,30 1.0,30"/><polygon points="16.4,0 19.4,0 13.3,30 10.3,30"/><rect x="0" y="9.5" width="20.5" height="2.5"/><rect x="0" y="18.3" width="20.5" height="2.5"/></g>
<g transform="translate(372.3,1361.4)"><polygon points="7.1,0 10.1,0 4.0,30 1.0,30"/><polygon points="16.4,0 19.4,0 13.3,30 10.3,30"/><rect x="0" y="9.5" width="20.5" height="2.5"/><rect x="0" y="18.3" width="20.5" height="2.5"/></g>
<text transform="translate(816.6,37.6) scale(0.94,1)" font-size="44" font-weight="bold">B</text>
<line x1="967.9" y1="43.2" x2="967.9" y2="423.6" stroke="#000" stroke-width="2.6" stroke-linecap="butt"/>
<line x1="957.4" y1="424.0" x2="967.9" y2="424.0" stroke="#000" stroke-width="2.6" stroke-linecap="butt"/>
<text x="938.5" y="435.5" font-size="33" text-anchor="end" font-weight="normal" >-20</text>
<line x1="957.4" y1="379.1" x2="967.9" y2="379.1" stroke="#000" stroke-width="2.6" stroke-linecap="butt"/>
<text x="938.5" y="390.6" font-size="33" text-anchor="end" font-weight="normal" >0</text>
<line x1="957.4" y1="334.2" x2="967.9" y2="334.2" stroke="#000" stroke-width="2.6" stroke-linecap="butt"/>
<text x="938.5" y="345.7" font-size="33" text-anchor="end" font-weight="normal" >20</text>
<line x1="957.4" y1="289.3" x2="967.9" y2="289.3" stroke="#000" stroke-width="2.6" stroke-linecap="butt"/>
<text x="938.5" y="300.8" font-size="33" text-anchor="end" font-weight="normal" >40</text>
<line x1="957.4" y1="244.4" x2="967.9" y2="244.4" stroke="#000" stroke-width="2.6" stroke-linecap="butt"/>
<text x="938.5" y="255.9" font-size="33" text-anchor="end" font-weight="normal" >60</text>
<line x1="957.4" y1="199.5" x2="967.9" y2="199.5" stroke="#000" stroke-width="2.6" stroke-linecap="butt"/>
<text x="938.5" y="211.0" font-size="33" text-anchor="end" font-weight="normal" >80</text>
<line x1="957.4" y1="154.6" x2="967.9" y2="154.6" stroke="#000" stroke-width="2.6" stroke-linecap="butt"/>
<text x="938.5" y="166.1" font-size="33" text-anchor="end" font-weight="normal" >100</text>
<line x1="957.4" y1="109.7" x2="967.9" y2="109.7" stroke="#000" stroke-width="2.6" stroke-linecap="butt"/>
<text x="938.5" y="121.2" font-size="33" text-anchor="end" font-weight="normal" >120</text>
<line x1="957.4" y1="64.8" x2="967.9" y2="64.8" stroke="#000" stroke-width="2.6" stroke-linecap="butt"/>
<text x="938.5" y="76.3" font-size="33" text-anchor="end" font-weight="normal" >140</text>
<line x1="957.4" y1="423.6" x2="1283.0" y2="420.1" stroke="#000" stroke-width="2.6" stroke-linecap="butt"/>
<text x="994.5" y="459.0" font-size="30" text-anchor="middle" font-weight="normal" >0</text>
<text x="1044.6" y="459.0" font-size="30" text-anchor="middle" font-weight="normal" >10</text>
<text x="1093.4" y="459.0" font-size="30" text-anchor="middle" font-weight="normal" >20</text>
<text x="1143.9" y="459.0" font-size="30" text-anchor="middle" font-weight="normal" >50</text>
<text x="1210.2" y="459.0" font-size="30" text-anchor="middle" font-weight="normal" >100</text>
<text x="1275.6" y="459.0" font-size="30" text-anchor="middle" font-weight="normal" >200</text>
<text x="1136.4" y="505.6" font-size="30" text-anchor="middle" font-weight="normal" >[DAMGO] (nM)</text>
<text transform="translate(835.4,233.5) rotate(-90)" font-size="33" text-anchor="middle">Maximum change in</text>
<text transform="translate(874.6,232.6) rotate(-90)" font-size="33" text-anchor="middle">burst amplitude (%)</text>
<rect x="984.2" y="292.5" width="8.4" height="8.4" fill="#fff" stroke="#000" stroke-width="1.3"/>
<rect x="984.2" y="330.0" width="8.4" height="8.4" fill="#fff" stroke="#000" stroke-width="1.3"/>
<rect x="981.3" y="344.8" width="8.4" height="8.4" fill="#fff" stroke="#000" stroke-width="1.3"/>
<rect x="988.0" y="346.4" width="8.4" height="8.4" fill="#fff" stroke="#000" stroke-width="1.3"/>
<rect x="974.0" y="350.2" width="8.4" height="8.4" fill="#fff" stroke="#000" stroke-width="1.3"/>
<rect x="976.0" y="368.4" width="8.4" height="8.4" fill="#fff" stroke="#000" stroke-width="1.3"/>
<rect x="983.2" y="367.5" width="8.4" height="8.4" fill="#fff" stroke="#000" stroke-width="1.3"/>
<rect x="987.1" y="373.1" width="8.4" height="8.4" fill="#fff" stroke="#000" stroke-width="1.3"/>
<rect x="980.4" y="377.4" width="8.4" height="8.4" fill="#fff" stroke="#000" stroke-width="1.3"/>
<rect x="986.1" y="379.4" width="8.4" height="8.4" fill="#fff" stroke="#000" stroke-width="1.3"/>
<rect x="985.5" y="382.1" width="8.4" height="8.4" fill="#fff" stroke="#000" stroke-width="1.3"/>
<rect x="975.6" y="384.8" width="8.4" height="8.4" fill="#fff" stroke="#000" stroke-width="1.3"/>
<line x1="1003.8" y1="389.7" x2="1003.8" y2="338.7" stroke="#404040" stroke-width="1.9" stroke-linecap="butt"/>
<line x1="997.8" y1="389.7" x2="1009.8" y2="389.7" stroke="#404040" stroke-width="2.0" stroke-linecap="butt"/>
<line x1="997.8" y1="338.7" x2="1009.8" y2="338.7" stroke="#404040" stroke-width="2.0" stroke-linecap="butt"/>
<rect x="997.3" y="358.4" width="13.2" height="13.2" fill="#fff" stroke="#000" stroke-width="1.5"/>
<circle cx="1035.8" cy="291.1" r="4.1" fill="#fff" stroke="#000" stroke-width="1.3"/>
<circle cx="1035.8" cy="305.5" r="4.1" fill="#fff" stroke="#000" stroke-width="1.3"/>
<circle cx="1035.8" cy="342.5" r="4.1" fill="#fff" stroke="#000" stroke-width="1.3"/>
<circle cx="1031.6" cy="353.7" r="4.1" fill="#fff" stroke="#000" stroke-width="1.3"/>
<circle cx="1031.6" cy="375.7" r="4.1" fill="#fff" stroke="#000" stroke-width="1.3"/>
<circle cx="1040.2" cy="379.8" r="4.1" fill="#fff" stroke="#000" stroke-width="1.3"/>
<circle cx="1031.6" cy="385.8" r="4.1" fill="#fff" stroke="#000" stroke-width="1.3"/>
<line x1="1048.6" y1="384.0" x2="1048.6" y2="309.1" stroke="#404040" stroke-width="1.9" stroke-linecap="butt"/>
<line x1="1042.6" y1="384.0" x2="1054.6" y2="384.0" stroke="#404040" stroke-width="2.0" stroke-linecap="butt"/>
<line x1="1042.6" y1="309.1" x2="1054.6" y2="309.1" stroke="#404040" stroke-width="2.0" stroke-linecap="butt"/>
<polygon points="1040.9,355.5 1056.2,355.5 1048.6,341.1" fill="#fff" stroke="#000" stroke-width="1.4" stroke-linejoin="miter"/>
<circle cx="1080.9" cy="242.2" r="4.1" fill="#C8C8C8" stroke="#000" stroke-width="1.3"/>
<circle cx="1080.9" cy="268.4" r="4.1" fill="#C8C8C8" stroke="#000" stroke-width="1.3"/>
<circle cx="1074.2" cy="288.4" r="4.1" fill="#C8C8C8" stroke="#000" stroke-width="1.3"/>
<circle cx="1085.3" cy="291.3" r="4.1" fill="#C8C8C8" stroke="#000" stroke-width="1.3"/>
<circle cx="1080.9" cy="319.2" r="4.1" fill="#C8C8C8" stroke="#000" stroke-width="1.3"/>
<circle cx="1074.2" cy="344.5" r="4.1" fill="#C8C8C8" stroke="#000" stroke-width="1.3"/>
<circle cx="1085.3" cy="349.0" r="4.1" fill="#C8C8C8" stroke="#000" stroke-width="1.3"/>
<circle cx="1080.9" cy="381.6" r="4.1" fill="#C8C8C8" stroke="#000" stroke-width="1.3"/>
<line x1="1095.6" y1="357.1" x2="1095.6" y2="263.7" stroke="#404040" stroke-width="1.9" stroke-linecap="butt"/>
<line x1="1089.6" y1="357.1" x2="1101.6" y2="357.1" stroke="#404040" stroke-width="2.0" stroke-linecap="butt"/>
<line x1="1089.6" y1="263.7" x2="1101.6" y2="263.7" stroke="#404040" stroke-width="2.0" stroke-linecap="butt"/>
<polygon points="1087.9,318.1 1103.2,318.1 1095.6,303.7" fill="#C8C8C8" stroke="#000" stroke-width="1.4" stroke-linejoin="miter"/>
<circle cx="1134.4" cy="52.2" r="4.1" fill="#A9CFF2" stroke="#000" stroke-width="1.3"/>
<circle cx="1134.4" cy="180.2" r="4.1" fill="#A9CFF2" stroke="#000" stroke-width="1.3"/>
<circle cx="1136.3" cy="244.4" r="4.1" fill="#A9CFF2" stroke="#000" stroke-width="1.3"/>
<circle cx="1130.0" cy="261.7" r="4.1" fill="#A9CFF2" stroke="#000" stroke-width="1.3"/>
<circle cx="1136.3" cy="304.6" r="4.1" fill="#A9CFF2" stroke="#000" stroke-width="1.3"/>
<circle cx="1130.0" cy="317.1" r="4.1" fill="#A9CFF2" stroke="#000" stroke-width="1.3"/>
<circle cx="1134.1" cy="351.7" r="4.1" fill="#A9CFF2" stroke="#000" stroke-width="1.3"/>
<circle cx="1134.1" cy="373.3" r="4.1" fill="#A9CFF2" stroke="#000" stroke-width="1.3"/>
<line x1="1149.0" y1="364.3" x2="1149.0" y2="156.2" stroke="#2E75B6" stroke-width="1.9" stroke-linecap="butt"/>
<line x1="1143.0" y1="364.3" x2="1155.0" y2="364.3" stroke="#2E75B6" stroke-width="2.0" stroke-linecap="butt"/>
<line x1="1143.0" y1="156.2" x2="1155.0" y2="156.2" stroke="#2E75B6" stroke-width="2.0" stroke-linecap="butt"/>
<polygon points="1141.2,270.0 1156.8,270.0 1149.0,254.7" fill="#A9CFF2" stroke="#000" stroke-width="1.4" stroke-linejoin="miter"/>
<g transform="translate(1140.0,118.1)"><polygon points="7.1,0 10.1,0 4.0,30 1.0,30"/><polygon points="16.4,0 19.4,0 13.3,30 10.3,30"/><rect x="0" y="9.5" width="20.5" height="2.5"/><rect x="0" y="18.3" width="20.5" height="2.5"/></g>
<circle cx="1198.1" cy="160.7" r="4.1" fill="#D9A214" stroke="#000" stroke-width="1.3"/>
<circle cx="1198.1" cy="217.0" r="4.1" fill="#D9A214" stroke="#000" stroke-width="1.3"/>
<circle cx="1198.1" cy="229.8" r="4.1" fill="#D9A214" stroke="#000" stroke-width="1.3"/>
<circle cx="1204.6" cy="283.0" r="4.1" fill="#D9A214" stroke="#000" stroke-width="1.3"/>
<circle cx="1197.9" cy="289.7" r="4.1" fill="#D9A214" stroke="#000" stroke-width="1.3"/>
<circle cx="1197.9" cy="347.0" r="4.1" fill="#D9A214" stroke="#000" stroke-width="1.3"/>
<circle cx="1189.6" cy="364.3" r="4.1" fill="#D9A214" stroke="#000" stroke-width="1.3"/>
<circle cx="1202.7" cy="362.7" r="4.1" fill="#D9A214" stroke="#000" stroke-width="1.3"/>
<circle cx="1197.9" cy="387.0" r="4.1" fill="#D9A214" stroke="#000" stroke-width="1.3"/>
<line x1="1212.6" y1="372.1" x2="1212.6" y2="214.5" stroke="#C55A11" stroke-width="1.9" stroke-linecap="butt"/>
<line x1="1206.6" y1="372.1" x2="1218.6" y2="372.1" stroke="#C55A11" stroke-width="2.0" stroke-linecap="butt"/>
<line x1="1206.6" y1="214.5" x2="1218.6" y2="214.5" stroke="#C55A11" stroke-width="2.0" stroke-linecap="butt"/>
<polygon points="1205.0,301.4 1220.6,301.4 1212.8,286.1" fill="#D9A214" stroke="#000" stroke-width="1.4" stroke-linejoin="miter"/>
<circle cx="1262.6" cy="97.8" r="4.8" fill="#000" stroke="#000" stroke-width="0"/>
<circle cx="1262.6" cy="120.7" r="4.8" fill="#000" stroke="#000" stroke-width="0"/>
<circle cx="1262.6" cy="143.4" r="4.8" fill="#000" stroke="#000" stroke-width="0"/>
<circle cx="1262.6" cy="168.3" r="4.8" fill="#000" stroke="#000" stroke-width="0"/>
<circle cx="1254.2" cy="222.2" r="4.8" fill="#000" stroke="#000" stroke-width="0"/>
<circle cx="1266.5" cy="222.2" r="4.8" fill="#000" stroke="#000" stroke-width="0"/>
<circle cx="1262.7" cy="239.0" r="4.8" fill="#000" stroke="#000" stroke-width="0"/>
<circle cx="1262.7" cy="301.4" r="4.8" fill="#000" stroke="#000" stroke-width="0"/>
<circle cx="1262.7" cy="334.9" r="4.8" fill="#000" stroke="#000" stroke-width="0"/>
<circle cx="1262.7" cy="375.1" r="4.8" fill="#000" stroke="#000" stroke-width="0"/>
<line x1="1281.4" y1="314.9" x2="1281.4" y2="129.5" stroke="#333333" stroke-width="1.9" stroke-linecap="butt"/>
<line x1="1275.4" y1="314.9" x2="1287.4" y2="314.9" stroke="#333333" stroke-width="2.0" stroke-linecap="butt"/>
<line x1="1275.4" y1="129.5" x2="1287.4" y2="129.5" stroke="#333333" stroke-width="2.0" stroke-linecap="butt"/>
<polygon points="1273.1,229.7 1289.7,229.7 1281.4,214.3" fill="#000" stroke="#000" stroke-width="1.4" stroke-linejoin="miter"/>
<g transform="translate(1273.0,91.1)"><polygon points="7.1,0 10.1,0 4.0,30 1.0,30"/><polygon points="16.4,0 19.4,0 13.3,30 10.3,30"/><rect x="0" y="9.5" width="20.5" height="2.5"/><rect x="0" y="18.3" width="20.5" height="2.5"/></g>
<rect x="897.2" y="619" width="387" height="277" fill="none" stroke="#000" stroke-width="3.2"/>
<rect x="914.8" y="637.4" width="21" height="21" fill="#fff" stroke="#000" stroke-width="2.4"/>
<circle cx="925.3" cy="690.6" r="11.2" fill="#fff" stroke="#000" stroke-width="2.5"/>
<circle cx="925.3" cy="732.8" r="11.2" fill="#C8C8C8" stroke="#000" stroke-width="2.5"/>
<circle cx="925.3" cy="775.7" r="11.2" fill="#9DC3E6" stroke="#000" stroke-width="2.5"/>
<circle cx="925.3" cy="814.2" r="11.2" fill="#BF9000" stroke="#000" stroke-width="2.5"/>
<circle cx="925.3" cy="857.0" r="11.2" fill="#000" stroke="#000" stroke-width="2.5"/>
<text x="949.5" y="657.6" font-size="30" text-anchor="start" font-weight="normal" >Time control (n=14)</text>
<text x="949.5" y="702.0" font-size="30" text-anchor="start" font-weight="normal" >DAMGO 10 nM (n=7)</text>
<text x="949.5" y="743.7" font-size="30" text-anchor="start" font-weight="normal" >DAMGO 20 nM (n=8)</text>
<text x="949.5" y="788.1" font-size="30" text-anchor="start" font-weight="normal" >DAMGO 50 nM (n=8)</text>
<text x="949.5" y="828.0" font-size="30" text-anchor="start" font-weight="normal" >DAMGO 100 nM (n=9)</text>
<text x="949.5" y="867.7" font-size="30" text-anchor="start" font-weight="normal" >DAMGO 200 nM (n=10)</text>
</svg></body></html>
